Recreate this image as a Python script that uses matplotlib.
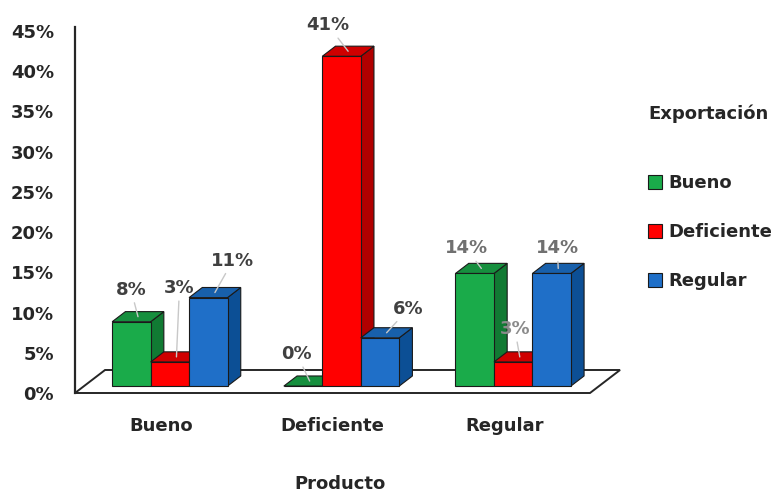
import matplotlib
matplotlib.use("Agg")
import matplotlib.pyplot as plt
from matplotlib.patches import Polygon, Patch

# ---- data -------------------------------------------------------------
categories = ["Bueno", "Deficiente", "Regular"]
series_names = ["Bueno", "Deficiente", "Regular"]
bueno = [8, 0, 14]
deficiente = [3, 41, 3]
regular = [11, 6, 14]
y_ticks = [0, 5, 10, 15, 20, 25, 30, 35, 40, 45]

# ---- style ------------------------------------------------------------
plt.rcParams["font.family"] = ["DejaVu Sans"]
plt.rcParams["font.weight"] = "bold"
FS = 13

# front, side, top colours for each series
palette = {
    "Bueno": ("#1aab4a", "#117a33", "#168f3e"),
    "Deficiente": ("#ff0000", "#b00000", "#cf0000"),
    "Regular": ("#1f6fc8", "#0c4f95", "#1860ab"),
}
edge = "#1a1a1a"

# oblique depth projection: full floor depth expressed in data units
DX, DY = 0.175, 2.86
Z_FRONT, Z_BACK = 0.30, 0.74
BAR_W = 0.224

# label offsets (pixels) from the centre of each bar's top face
label_offsets = [
    [(-7, 27), (-13, 27), (-15, 20)],    # Bueno series
    [(3, 69), (-20, 26), (-5, 28)],      # Deficiente series
    [(18, 32), (22, 24), (-1, 20)],      # Regular series
]
label_colors = [
    ["#404040", "#404040", "#707070"],
    ["#404040", "#404040", "#8a8a8a"],
    ["#404040", "#404040", "#707070"],
]


def proj(x, y, z):
    return (x + z * DX, y + z * DY)


fig = plt.figure(figsize=(7.77, 4.95), dpi=100)
ax = fig.add_axes([75 / 777, 102 / 495, 515 / 777, 366 / 495])
ax.set_xlim(-0.5, 2.5)
ax.set_ylim(0, 45.5)

# floor
floor = [proj(-0.5, 0, 0), proj(2.5, 0, 0), proj(2.5, 0, 1), proj(-0.5, 0, 1)]
ax.add_patch(Polygon(floor, closed=True, facecolor="white", edgecolor="#262626",
                     lw=1.4, clip_on=False, zorder=1))

all_series = [bueno, deficiente, regular]
zc = 10
for ci, cat in enumerate(categories):
    for si, name in enumerate(series_names):
        v = all_series[si][ci]
        front, side, top = palette[name]
        x0 = ci - 1.5 * BAR_W + si * BAR_W
        x1 = x0 + BAR_W
        side_poly = [proj(x1, 0, Z_FRONT), proj(x1, 0, Z_BACK),
                     proj(x1, v, Z_BACK), proj(x1, v, Z_FRONT)]
        top_poly = [proj(x0, v, Z_FRONT), proj(x1, v, Z_FRONT),
                    proj(x1, v, Z_BACK), proj(x0, v, Z_BACK)]
        front_poly = [proj(x0, 0, Z_FRONT), proj(x1, 0, Z_FRONT),
                      proj(x1, v, Z_FRONT), proj(x0, v, Z_FRONT)]
        for poly, col in ((side_poly, side), (top_poly, top), (front_poly, front)):
            ax.add_patch(Polygon(poly, closed=True, facecolor=col, edgecolor=edge,
                                 lw=0.8, clip_on=False, zorder=zc))
        zc += 1

# data labels with leader lines
for ci in range(len(categories)):
    for si, name in enumerate(series_names):
        v = all_series[si][ci]
        x0 = ci - 1.5 * BAR_W + si * BAR_W
        anchor = proj(x0 + BAR_W / 2, v, (Z_FRONT + Z_BACK) / 2)
        ax.annotate(f"{v}%", xy=anchor, xytext=label_offsets[si][ci],
                    textcoords="offset pixels", ha="center", va="center",
                    fontsize=FS, fontweight="bold", color=label_colors[si][ci],
                    arrowprops=dict(arrowstyle="-", color="#c8c8c8", lw=1,
                                    shrinkA=1, shrinkB=0),
                    annotation_clip=False, zorder=100)

# axes
for s in ("top", "right", "bottom"):
    ax.spines[s].set_visible(False)
ax.spines["left"].set_color("#262626")
ax.spines["left"].set_linewidth(1.6)
ax.spines["left"].set_zorder(0)
ax.set_yticks(y_ticks)
ax.set_yticklabels([f"{t}%" for t in y_ticks], fontsize=FS, fontweight="bold",
                   color="#262626")
ax.set_xticks(range(len(categories)))
ax.set_xticklabels(categories, fontsize=FS, fontweight="bold", color="#262626")
ax.tick_params(axis="y", length=0, pad=15)
ax.tick_params(axis="x", length=0, pad=17)
ax.set_xlabel("Producto", fontsize=FS, fontweight="bold", color="#262626")
ax.xaxis.set_label_coords((340 - 75) / 515, -0.224)

# legend
fig.text(648 / 777, 1 - 114 / 495, "Exportación", fontsize=FS, fontweight="bold",
         color="#262626", ha="left", va="center")
handles = [Patch(facecolor=palette[n][0], edgecolor=edge, lw=0.8) for n in series_names]
fig.legend(handles, series_names, loc="upper left",
           bbox_to_anchor=(648 / 777, 1 - 174 / 495), frameon=False,
           prop=dict(size=FS, weight="bold"), handlelength=0.8,
           handleheight=0.8, handletextpad=0.35, labelspacing=1.72,
           borderpad=0, borderaxespad=0, labelcolor="#262626")

fig.savefig("out.png", dpi=100, facecolor="white")
